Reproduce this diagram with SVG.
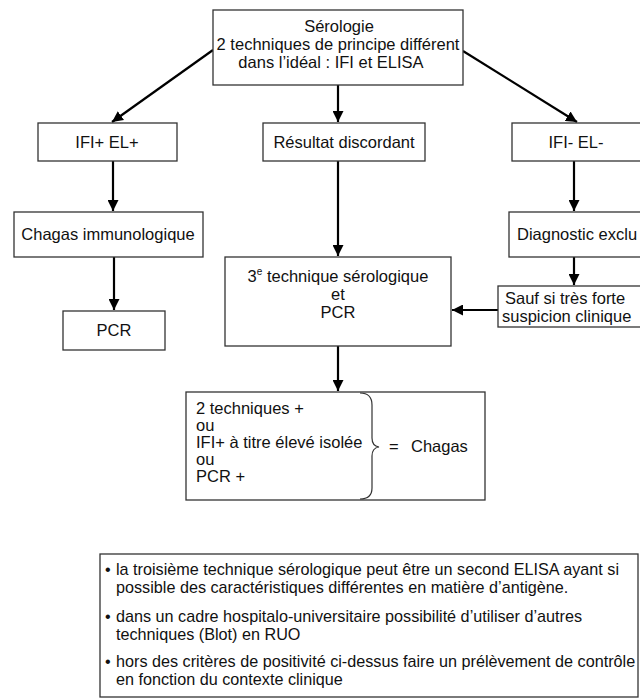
<svg xmlns="http://www.w3.org/2000/svg" width="640" height="699" viewBox="0 0 640 699">
<defs>
<marker id="ah" viewBox="0 0 10 10" refX="10" refY="5" markerWidth="5" markerHeight="5" orient="auto" markerUnits="strokeWidth">
<path d="M0,0 L10,5 L0,10 z" fill="#000"/>
</marker>
<style>
.box{fill:#fff;stroke:#333;stroke-width:1.3}
.t{font-family:"Liberation Sans",Arial,sans-serif;font-size:16.5px;fill:#111}
.c{text-anchor:middle}
.n{font-family:"Liberation Sans",Arial,sans-serif;font-size:16.2px;fill:#111}
.con{stroke:#000;stroke-width:2.2;fill:none;marker-end:url(#ah)}
</style>
</defs>
<rect width="640" height="699" fill="#fff"/>
<g id="connectors">
<line class="con" x1="213" y1="50" x2="112" y2="122"/>
<line class="con" x1="463" y1="51" x2="577" y2="122"/>
<line class="con" x1="338" y1="85" x2="338" y2="122"/>
<line class="con" x1="113" y1="161" x2="113" y2="211"/>
<line class="con" x1="338" y1="161" x2="338" y2="256"/>
<line class="con" x1="574" y1="161" x2="574" y2="211"/>
<line class="con" x1="114" y1="257" x2="114" y2="310"/>
<line class="con" x1="574" y1="257" x2="574" y2="285"/>
<line class="con" x1="498" y1="310" x2="452" y2="310"/>
<line class="con" x1="338" y1="346" x2="338" y2="391"/>
</g>
<g id="serologie">
<rect class="box" x="213" y="10" width="250" height="75"/>
<text class="t c" x="339" y="32">Sérologie</text>
<text class="t c" x="338" y="50">2 techniques de principe différent</text>
<text class="t c" x="331" y="68">dans l’idéal : IFI et ELISA</text>
</g>
<g id="ifi-pos">
<rect class="box" x="38" y="123" width="139" height="38"/>
<text class="t c" x="107" y="148">IFI+ EL+</text>
</g>
<g id="discordant">
<rect class="box" x="263" y="123" width="162" height="38"/>
<text class="t c" x="344" y="148">Résultat discordant</text>
</g>
<g id="ifi-neg">
<rect class="box" x="512" y="123" width="150" height="38"/>
<text class="t c" x="576" y="148">IFI- EL-</text>
</g>
<g id="chagas-immuno">
<rect class="box" x="14" y="212" width="189" height="45"/>
<text class="t c" x="108" y="240">Chagas immunologique</text>
</g>
<g id="diag-exclu">
<rect class="box" x="509" y="212" width="150" height="45"/>
<text class="t" x="517" y="240">Diagnostic exclu</text>
</g>
<g id="troisieme">
<rect class="box" x="225" y="257" width="226" height="89"/>
<text class="t c" x="338" y="282">3<tspan font-size="10" dy="-7">e</tspan><tspan dy="7"> technique sérologique</tspan></text>
<text class="t c" x="338" y="300">et</text>
<text class="t c" x="338" y="318">PCR</text>
</g>
<g id="sauf">
<rect class="box" x="498" y="286" width="160" height="41"/>
<text class="t" x="505" y="304">Sauf si très forte</text>
<text class="t" x="502" y="322">suspicion clinique</text>
</g>
<g id="pcr">
<rect class="box" x="63" y="311" width="102" height="39"/>
<text class="t c" x="114" y="336">PCR</text>
</g>
<g id="resultat">
<rect class="box" x="186" y="392" width="299" height="108"/>
<text class="t" x="196" y="414">2 techniques +</text>
<text class="t" x="196" y="431">ou</text>
<text class="t" x="196" y="448">IFI+ à titre élevé isolée</text>
<text class="t" x="196" y="465">ou</text>
<text class="t" x="196" y="482">PCR +</text>
<path d="M360,393 Q372,393 372,405 L372,438 Q372,446 379,447 Q372,448 372,456 L372,488 Q372,499 360,499" fill="none" stroke="#333" stroke-width="1.2"/>
<text class="t" x="389" y="452">=</text>
<text class="t" x="411" y="452">Chagas</text>
</g>
<g id="notes">
<rect class="box" x="100" y="554" width="538" height="143"/>
<text class="n" x="105" y="575">•</text>
<text class="n" x="116" y="575">la troisième technique sérologique peut être un second ELISA ayant si</text>
<text class="n" x="116" y="593">possible des caractéristiques différentes en matière d’antigène.</text>
<text class="n" x="105" y="622">•</text>
<text class="n" x="116" y="622">dans un cadre hospitalo-universitaire possibilité d’utiliser d’autres</text>
<text class="n" x="116" y="640">techniques (Blot) en RUO</text>
<text class="n" x="105" y="667">•</text>
<text class="n" x="116" y="667">hors des critères de positivité ci-dessus faire un prélèvement de contrôle</text>
<text class="n" x="116" y="685">en fonction du contexte clinique</text>
</g>
</svg>
